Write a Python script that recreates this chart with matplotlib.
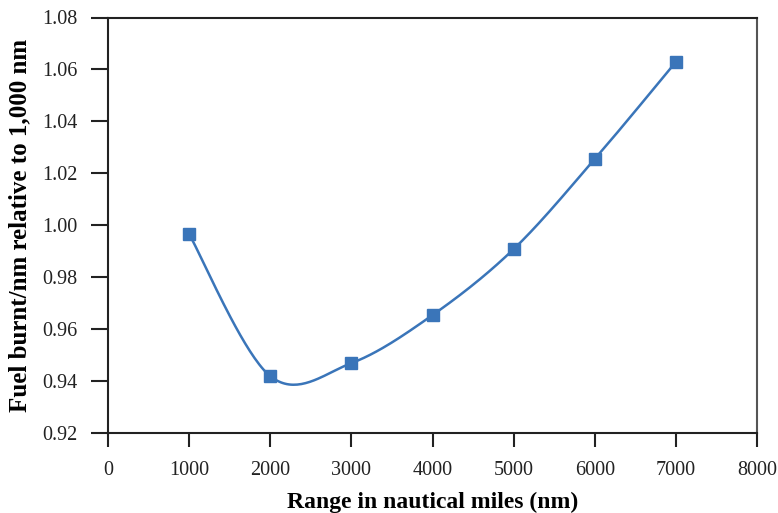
import numpy as np
import matplotlib
matplotlib.use("Agg")
import matplotlib.pyplot as plt

ranges = [1000, 2000, 3000, 4000, 5000, 6000, 7000]
fuel = [0.9966, 0.9419, 0.9469, 0.9654, 0.9908, 1.0255, 1.0629]
xticks = [0, 1000, 2000, 3000, 4000, 5000, 6000, 7000, 8000]
yticks = [0.92, 0.94, 0.96, 0.98, 1.00, 1.02, 1.04, 1.06, 1.08]

color = "#3A75B9"

def smooth(xs, ys, n=40):
    P = np.column_stack([xs, ys]).astype(float)
    P = np.vstack([P[0], P, P[-1]])
    out = []
    for i in range(1, len(P) - 2):
        p0, p1, p2, p3 = P[i - 1], P[i], P[i + 1], P[i + 2]
        c1 = p1 + (p2 - p0) / 6.0
        c2 = p2 - (p3 - p1) / 6.0
        t = np.linspace(0, 1, n)[:, None]
        seg = ((1 - t) ** 3) * p1 + 3 * ((1 - t) ** 2) * t * c1 + 3 * (1 - t) * t ** 2 * c2 + t ** 3 * p2
        out.append(seg if i == 1 else seg[1:])
    seg = np.vstack(out)
    return seg[:, 0], seg[:, 1]

plt.rcParams['font.family'] = ['Liberation Serif', 'DejaVu Serif']

fig = plt.figure(figsize=(7.78, 5.13), dpi=100)
ax = fig.add_axes([108 / 778, 1 - 433 / 513, (757 - 108) / 778, (433 - 17.5) / 513])

sx, sy = smooth(ranges, fuel)
ax.plot(sx, sy, color=color, lw=1.8, zorder=2)
ax.plot(ranges, fuel, ls='none', marker='s', ms=8, color=color, zorder=3)

ax.set_xlim(0, 8000)
ax.set_ylim(0.92, 1.08)
ax.set_xticks(xticks)
ax.set_xticklabels([str(v) for v in xticks])
ax.set_yticks(yticks)
ax.set_yticklabels([f"{v:.2f}" for v in yticks])
ax.tick_params(axis='y', direction='out', length=12, width=1.5, pad=10, labelsize=14.5, colors='#222222')
ax.tick_params(axis='x', direction='out', length=10, width=1.5, pad=10, labelsize=14.5, colors='#222222')
for s in ['left', 'bottom', 'top']:
    ax.spines[s].set_linewidth(1.5)
    ax.spines[s].set_color('#222222')
ax.spines['right'].set_linewidth(1.5)
ax.spines['right'].set_color('#555555')

ax.set_xlabel("Range in nautical miles (nm)", fontsize=17, fontweight='bold', labelpad=9)
ax.set_ylabel("Fuel burnt/nm relative to 1,000 nm", fontsize=18, fontweight='bold', labelpad=8)

fig.savefig("out.png", dpi=100)
